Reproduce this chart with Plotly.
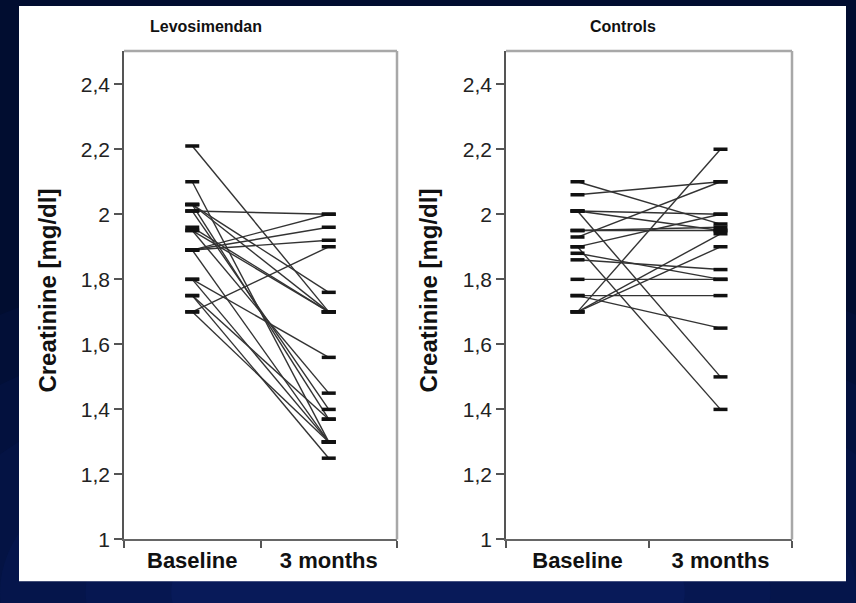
import plotly.graph_objects as go

# ---------------- data ----------------
categories = ["Baseline", "3 months"]
panel_titles = ["Levosimendan", "Controls"]
y_title = "Creatinine [mg/dl]"
y_tick_values = [1.0, 1.2, 1.4, 1.6, 1.8, 2.0, 2.2, 2.4]
y_tick_labels = ["1", "1,2", "1,4", "1,6", "1,8", "2", "2,2", "2,4"]

levo_baseline = [2.21, 2.10, 2.03, 2.03, 2.01, 2.03, 2.01, 1.96, 1.95, 1.95,
                 1.89, 1.89, 1.89, 1.89, 1.80, 1.80, 1.75, 1.75, 1.70, 1.70]
levo_3months = [1.70, 1.30, 1.70, 1.76, 2.00, 1.37, 1.40, 1.70, 1.70, 1.45,
                2.00, 1.96, 1.92, 1.30, 1.56, 1.30, 1.37, 1.25, 1.90, 1.30]

ctrl_baseline = [2.10, 2.06, 2.01, 2.01, 2.01, 1.95, 1.95, 1.93, 1.90, 1.90,
                 1.88, 1.86, 1.80, 1.75, 1.75, 1.70, 1.70, 1.70]
ctrl_3months = [1.97, 2.10, 2.00, 1.95, 1.50, 1.95, 1.96, 2.10, 2.00, 1.40,
                1.80, 1.83, 1.80, 1.75, 1.65, 2.20, 1.94, 1.90]

W, H = 856, 603
FONT = "Liberation Sans, Arial, sans-serif"

fig = go.Figure()


def add_group(base, after, xa, ya):
    lx, ly = [], []
    for b, a in zip(base, after):
        lx += [categories[0], categories[1], None]
        ly += [b, a, None]
    fig.add_trace(go.Scatter(x=lx, y=ly, mode="lines", xaxis=xa, yaxis=ya,
                             line=dict(color="#333333", width=1.4),
                             connectgaps=False, hoverinfo="skip", showlegend=False))
    mx = [categories[0]] * len(base) + [categories[1]] * len(after)
    my = list(base) + list(after)
    fig.add_trace(go.Scatter(x=mx, y=my, mode="markers", xaxis=xa, yaxis=ya,
                             marker=dict(symbol="line-ew", size=10, color="#111",
                                         line=dict(color="#111", width=3.5)),
                             showlegend=False))


add_group(levo_baseline, levo_3months, "x", "y")
add_group(ctrl_baseline, ctrl_3months, "x2", "y2")

left_px = [(124, 397), (506, 792)]
y_dom = [(H - 549.5) / H, (H - 52) / H]


def xaxis_cfg(px, anchor):
    return dict(domain=[px[0] / W, px[1] / W], type="category", anchor=anchor,
                categoryorder="array", categoryarray=categories,
                range=[-0.5, 1.5], tickson="boundaries", ticks="outside",
                ticklen=7, tickwidth=1.5, tickcolor="#555",
                showline=True, linecolor="#666", linewidth=1.5,
                showgrid=False, zeroline=False,
                tickfont=dict(family=FONT, size=22, color="#111", weight="bold"))


def yaxis_cfg(anchor):
    return dict(domain=y_dom, range=[1, 2.502], anchor=anchor,
                tickvals=y_tick_values, ticktext=y_tick_labels,
                ticks="outside", ticklen=8, tickwidth=1.5, tickcolor="#555",
                showline=True, linecolor="#555", linewidth=1.5,
                showgrid=False, zeroline=False,
                tickfont=dict(family=FONT, size=21, color="#222"))


shapes = []
# soft blue glow in the dark slide background
glow = [(0.80, 0.60, 0.05), (0.70, 0.50, 0.05), (0.60, 0.42, 0.05),
        (0.50, 0.34, 0.06), (0.40, 0.26, 0.06), (0.30, 0.18, 0.07)]
for rx, ry, op in glow:
    shapes.append(dict(type="circle", xref="paper", yref="paper", layer="below",
                       x0=0.5 - rx, x1=0.5 + rx, y0=-ry, y1=ry,
                       fillcolor="#2a44c0", opacity=op, line=dict(width=0)))
shapes.append(dict(type="rect", xref="paper", yref="paper", layer="below",
                   x0=19 / W, x1=846 / W, y0=(H - 592) / H, y1=(H - 6) / H,
                   fillcolor="white", line=dict(width=0)))
for xa, ya in [("x", "y"), ("x2", "y2")]:
    shapes.append(dict(type="line", xref=f"{xa} domain", yref=f"{ya} domain",
                       x0=0, x1=1, y0=1, y1=1, line=dict(color="#a8a8a8", width=2.5)))
    shapes.append(dict(type="line", xref=f"{xa} domain", yref=f"{ya} domain",
                       x0=1, x1=1, y0=0, y1=1, line=dict(color="#a8a8a8", width=2.5)))

annotations = []
title_x = [206, 623]
ytitle_x = [48, 429]
for i in range(2):
    annotations.append(dict(text=panel_titles[i], xref="paper", yref="paper",
                            x=title_x[i] / W, y=(H - 27) / H, showarrow=False,
                            xanchor="center", yanchor="middle",
                            font=dict(family=FONT, size=16, color="#111", weight="bold")))
    annotations.append(dict(text=y_title, xref="paper", yref="paper",
                            x=ytitle_x[i] / W, y=(H - 296) / H, showarrow=False,
                            textangle=-90, xanchor="center", yanchor="middle",
                            font=dict(family=FONT, size=24, color="#111", weight="bold")))

fig.update_layout(
    width=W, height=H, margin=dict(l=0, r=0, t=0, b=0),
    paper_bgcolor="#010d30", plot_bgcolor="white",
    xaxis=xaxis_cfg(left_px[0], "y"), yaxis=yaxis_cfg("x"),
    xaxis2=xaxis_cfg(left_px[1], "y2"), yaxis2=yaxis_cfg("x2"),
    shapes=shapes, annotations=annotations, showlegend=False,
)

fig.write_html("out.html")
